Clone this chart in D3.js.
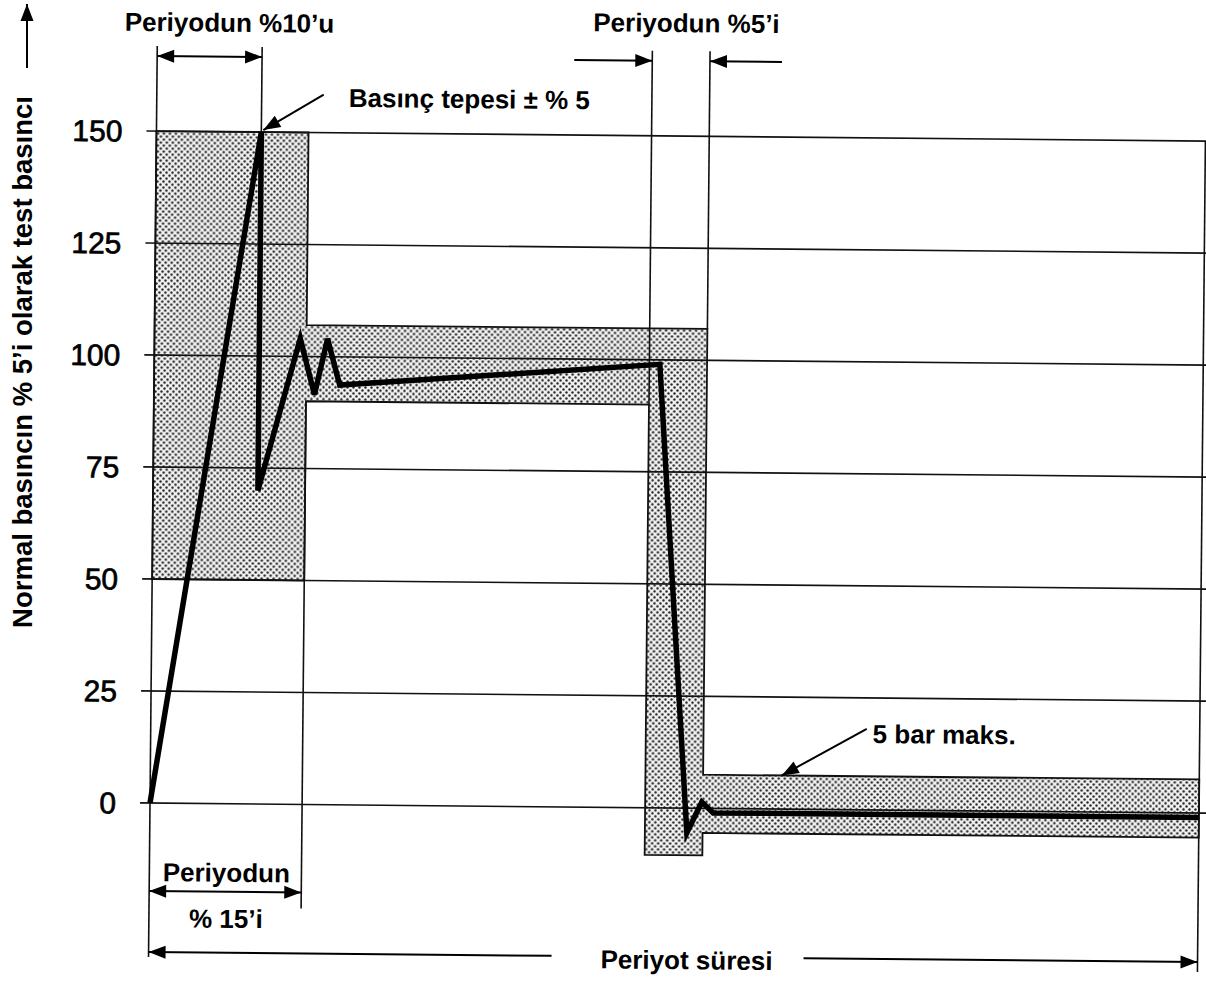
<!DOCTYPE html>
<html>
<head>
<meta charset="utf-8">
<script src="https://cdn.jsdelivr.net/npm/d3@7"></script>
<style>
  body { margin: 0; background: #fff; }
  text { font-family: Arial, "Liberation Sans", Helvetica, sans-serif; fill: #000; }
</style>
</head>
<body>
<div id="chart"></div>
<script>
// values (time in % of period, pressure in % of normal)
var yTicks = [0, 25, 50, 75, 100, 125, 150];
var curveTime = [0, 10, 10, 13.9, 15.3, 16.5, 17.7, 48.2, 51.2, 52.6, 53.7, 100];
var curvePressure = [0, 150, 70, 104, 91.5, 104, 93.7, 99, -5.5, 1.4, -1, -1];
var bandTime = [0, 14.5, 14.5, 52.7, 52.7, 100, 100, 52.7, 52.7, 47.2, 47.2, 14.5, 14.5, 0];
var bandPressure = [150, 150, 107, 107, 7.5, 7.5, -5.5, -5.5, -10.5, -10.5, 90, 90, 50, 50];
var markTimes = [0, 10, 14.5, 47.2, 52.7, 100];

var width = 1206, height = 981;
var svg = d3.select("#chart").append("svg")
    .attr("width", width).attr("height", height);

var defs = svg.append("defs");
var pat = defs.append("pattern").attr("id", "dots")
    .attr("patternUnits", "userSpaceOnUse")
    .attr("width", 6).attr("height", 6);
pat.append("rect").attr("width", 6).attr("height", 6).attr("fill", "#f2f2f2");
pat.append("circle").attr("cx", 1.5).attr("cy", 1.5).attr("r", 1.2).attr("fill", "#222");
pat.append("circle").attr("cx", 4.5).attr("cy", 4.5).attr("r", 1.2).attr("fill", "#222");

var x = d3.scaleLinear().domain([0, 100]).range([150, 1199]);
var y = d3.scaleLinear().domain([0, 150]).range([803, 131]);

// scanned original is a little skewed
var g = svg.append("g").attr("transform", "rotate(0.55,150,803)");

var band = bandTime.map(function(t, i) { return [t, bandPressure[i]]; });
var curve = curveTime.map(function(t, i) { return [t, curvePressure[i]]; });
var line = d3.line().x(function(d) { return x(d[0]); }).y(function(d) { return y(d[1]); });

// shaded tolerance band
g.append("path").attr("d", line(band) + "Z").attr("fill", "url(#dots)").attr("stroke", "none");

// grid lines
g.selectAll(".grid").data(yTicks).enter().append("line")
    .attr("class", "grid")
    .attr("x1", 140).attr("x2", 1215)
    .attr("y1", function(d) { return y(d); }).attr("y2", function(d) { return y(d); })
    .attr("stroke", "#111").attr("stroke-width", 1.6);

g.selectAll(".tick").data(yTicks).enter().append("text")
    .attr("class", "tick")
    .attr("x", 116).attr("y", function(d) { return y(d); })
    .attr("dy", "0.36em").attr("text-anchor", "end")
    .attr("font-size", 30)
    .attr("stroke", "#000").attr("stroke-width", 0.7)
    .text(function(d) { return d; });

// band outline
g.append("path").attr("d", line(band) + "Z").attr("fill", "none")
    .attr("stroke", "#111").attr("stroke-width", 1.8);

// vertical marker lines
var vtop = 46;
var vlines = [
  [markTimes[0], vtop, 957],
  [markTimes[1], vtop, y(150)],
  [markTimes[2], y(90), 907],
  [markTimes[3], vtop, y(90)],
  [markTimes[4], vtop, y(107)],
  [markTimes[5], y(150), 962]
];
g.selectAll(".vline").data(vlines).enter().append("line")
    .attr("class", "vline")
    .attr("x1", function(d) { return x(d[0]); }).attr("x2", function(d) { return x(d[0]); })
    .attr("y1", function(d) { return d[1]; }).attr("y2", function(d) { return d[2]; })
    .attr("stroke", "#111").attr("stroke-width", 1.6);

// pressure curve
g.append("path").attr("d", line(curve)).attr("fill", "none")
    .attr("stroke", "#000").attr("stroke-width", 5.5).attr("stroke-linejoin", "miter");

function head(p, x1, y1, x2, y2, len, hw) {
  var a = Math.atan2(y2 - y1, x2 - x1);
  var bx = x2 - len * Math.cos(a), by = y2 - len * Math.sin(a);
  var px = -Math.sin(a) * hw, py = Math.cos(a) * hw;
  p.append("path")
    .attr("d", "M" + x2 + "," + y2 + "L" + (bx + px) + "," + (by + py) + "L" + (bx - px) + "," + (by - py) + "Z")
    .attr("fill", "#000");
}
function arrow(p, x1, y1, x2, y2, both) {
  p.append("line").attr("x1", x1).attr("y1", y1).attr("x2", x2).attr("y2", y2)
    .attr("stroke", "#000").attr("stroke-width", 2);
  head(p, x1, y1, x2, y2, 17, 6.5);
  if (both) head(p, x2, y2, x1, y1, 17, 6.5);
}

var ay = 56;
arrow(g, x(0), ay, x(10), ay, true);
arrow(g, x(47.2) - 78, ay, x(47.2), ay, false);
arrow(g, x(52.7) + 72, ay, x(52.7), ay, false);
arrow(g, x(10) + 62, y(150) - 38, x(10) + 2, y(150) - 2, false);
arrow(g, 866, 722, x(60.2), y(7.5), false);
arrow(g, x(0), 891, x(14.5), 891, true);
arrow(g, 553, 952, x(0), 952, false);
arrow(g, 805, 952, x(100), 952, false);

function label(p, tx, ty, s, anchor) {
  p.append("text").attr("x", tx).attr("y", ty)
    .attr("text-anchor", anchor || "middle")
    .attr("font-size", 26).attr("font-weight", "bold")
    .text(s);
}
label(g, 222, 31, "Periyodun %10\u2019u");
label(g, 679, 27, "Periyodun %5\u2019i");
label(g, 342, 105, "Bas\u0131n\u00e7 tepesi \u00b1 % 5", "start");
label(g, 872, 736, "5 bar maks.", "start");
label(g, 227, 881, "Periyodun");
label(g, 227, 927, "% 15\u2019i");
label(g, 688, 964, "Periyot s\u00fcresi");

// y axis title with arrow
svg.append("text")
    .attr("transform", "translate(32,362) rotate(-90)")
    .attr("text-anchor", "middle")
    .attr("font-size", 27.5).attr("font-weight", "bold")
    .text("Normal bas\u0131nc\u0131n % 5\u2019i olarak test bas\u0131nc\u0131");
arrow(svg, 27, 68, 27, 4, false);
</script>
</body>
</html>
